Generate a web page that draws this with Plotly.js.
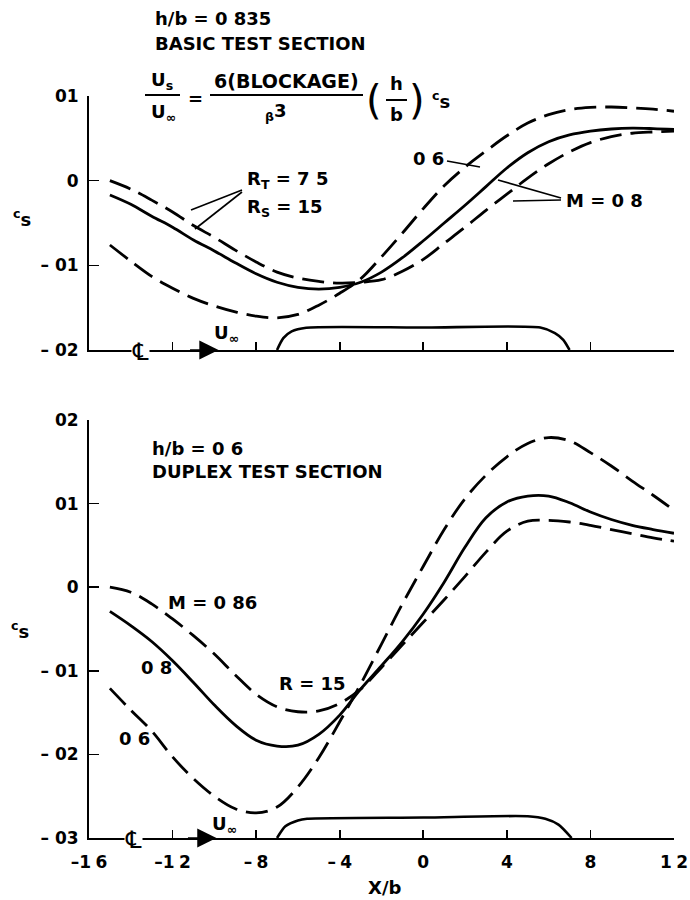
<!DOCTYPE html>
<html>
<head>
<meta charset="utf-8">
<script src="https://cdn.plot.ly/plotly-3.0.1.min.js"></script>
<style>html,body{margin:0;padding:0;background:#fff}</style>
</head>
<body>
<div id="chart" style="width:690px;height:900px"></div>
<script>
// ---------- DATA (x = X/b, y = epsilon_s) ----------
const curveX = [-1.5,-1.4,-1.3,-1.2,-1.1,-1.0,-0.9,-0.8,-0.7,-0.6,-0.5,-0.4,-0.3,-0.2,-0.1,0.0,0.1,0.2,0.3,0.4,0.5,0.6,0.7,0.8,0.9,1.0,1.1,1.2];

// Top panel: h/b = 0.835, basic test section
const topM06Y   = [-0.0076,-0.0095,-0.0113,-0.0127,-0.0139,-0.0148,-0.0155,-0.0160,-0.0162,-0.0158,-0.0147,-0.0133,-0.0116,-0.0090,-0.0062,-0.0033,-0.0006,0.0016,0.0035,0.0053,0.0068,0.0078,0.0084,0.00865,0.0087,0.0086,0.00845,0.0082];
const topM08RTY = [-0.0017,-0.0028,-0.0042,-0.0055,-0.0070,-0.0083,-0.0097,-0.0110,-0.0120,-0.0126,-0.0128,-0.0126,-0.0120,-0.0108,-0.0091,-0.0071,-0.0050,-0.0029,-0.0007,0.0015,0.0033,0.0046,0.0054,0.00585,0.0061,0.0062,0.00615,0.00605];
const topM08RSY = [0.0000,-0.0010,-0.0023,-0.0037,-0.0053,-0.0067,-0.0082,-0.0096,-0.0108,-0.0115,-0.0119,-0.0121,-0.0120,-0.0117,-0.0107,-0.0093,-0.0074,-0.0055,-0.0035,-0.0016,0.0003,0.0020,0.0034,0.0045,0.0052,0.0056,0.00575,0.00585];
const topBodyX = [-0.70,-0.67,-0.63,-0.56,0,0.56,0.63,0.67,0.70];
const topBodyY = [-0.0200,-0.0186,-0.0178,-0.01737,-0.01735,-0.01735,-0.0180,-0.0188,-0.0200];

// Bottom panel: h/b = 0.6, duplex test section, R = 15
const botM086Y = [0.0000,-0.0006,-0.0020,-0.0038,-0.0058,-0.0080,-0.0105,-0.0128,-0.0143,-0.0149,-0.0148,-0.0139,-0.0122,-0.0096,-0.0069,-0.0042,-0.0015,0.0013,0.0042,0.0067,0.0079,0.0080,0.0078,0.0074,0.0069,0.0064,0.0059,0.0055];
const botM08Y  = [-0.0029,-0.0046,-0.0065,-0.0088,-0.0114,-0.0141,-0.0165,-0.0183,-0.0190,-0.0189,-0.0176,-0.0153,-0.0122,-0.0094,-0.0065,-0.0032,0.0006,0.0048,0.0083,0.0102,0.0109,0.0109,0.0101,0.0090,0.0081,0.0074,0.0069,0.00645];
const botM06Y  = [-0.0121,-0.0147,-0.0172,-0.0203,-0.0229,-0.0250,-0.0265,-0.0270,-0.0263,-0.0239,-0.0204,-0.0161,-0.0116,-0.0068,-0.0020,0.0025,0.0069,0.0106,0.0134,0.0156,0.0172,0.0179,0.0175,0.0161,0.0145,0.0127,0.0110,0.0092];
const botBodyX = [-0.70,-0.66,-0.60,-0.556,0,0.50,0.584,0.647,0.71];
const botBodyY = [-0.0300,-0.0286,-0.0279,-0.0277,-0.02755,-0.0274,-0.0277,-0.0284,-0.0300];

const xTickVals = [-1.6,-1.2,-0.8,-0.4,0,0.4,0.8,1.2];
const xTickText = ['\u20131\u20056','\u20131\u20052','\u2013\u20058','\u2013\u20054','0','4','8','1\u20052'];
const topYVals = [-0.02,-0.01,0,0.01];
const topYText = ['\u2013 02','\u2013 01','0','01'];
const botYVals = [-0.03,-0.02,-0.01,0,0.01,0.02];
const botYText = ['\u2013 03','\u2013 02','\u2013 01','0','01','02'];

// ---------- LAYOUT HELPERS ----------
const ML = 89, MT = 96, PW = 585, PH = 742;
const px = x => (x - ML) / PW;
const py = y => 1 - (y - MT) / PH;
const FONT = 'DejaVu Sans';
const DASH = '22px,9px';
const LW = 2.8;

function curve(x, y, xa, ya, dash) {
  return {x: x, y: y, xaxis: xa, yaxis: ya, mode: 'lines', hoverinfo: 'skip', showlegend: false,
    line: {color: '#000', width: LW, dash: dash || 'solid', shape: 'spline', smoothing: 1}};
}
function body(x, y, xa, ya) {
  return {x: x, y: y, xaxis: xa, yaxis: ya, mode: 'lines', hoverinfo: 'skip', showlegend: false,
    line: {color: '#000', width: 2.6, shape: 'spline', smoothing: 0.7}};
}

const data = [
  curve(curveX, topM06Y, 'x', 'y', DASH),
  curve(curveX, topM08RTY, 'x', 'y'),
  curve(curveX, topM08RSY, 'x', 'y', DASH),
  body(topBodyX, topBodyY, 'x', 'y'),
  curve(curveX, botM086Y, 'x2', 'y2', DASH),
  curve(curveX, botM08Y, 'x2', 'y2'),
  curve(curveX, botM06Y, 'x2', 'y2', DASH),
  body(botBodyX, botBodyY, 'x2', 'y2')
];

function txt(t, x, y, opt) {
  opt = opt || {};
  const a = {text: t, x: px(x), y: py(y), xref: 'paper', yref: 'paper', showarrow: false,
    xanchor: opt.xa || 'left', yanchor: 'middle', font: {family: FONT, size: opt.size || 18, color: '#000', weight: opt.weight || 'bold'}};
  if (opt.bg) { a.bgcolor = opt.bg; a.borderpad = 0; }
  return a;
}
function seg(x0, y0, x1, y1, w) {
  return {type: 'line', xref: 'paper', yref: 'paper', x0: px(x0), y0: py(y0), x1: px(x1), y1: py(y1),
    line: {color: '#000', width: w || 1.6}};
}
function flowArrow(xa, ya, tipX, yVal) {
  return {xref: xa, yref: ya, x: tipX, y: yVal, ax: -30, ay: 0, text: '', showarrow: true,
    arrowhead: 2, arrowsize: 2.4, arrowwidth: 1.6, arrowcolor: '#000', standoff: 0};
}

const annotations = [
  txt('h/b = 0 835', 153, 18),
  txt('BASIC TEST SECTION', 153, 44),
  txt('U<sub>s</sub>', 162, 81, {xa: 'center'}),
  txt('U<sub>\u221e</sub>', 163, 113, {xa: 'center'}),
  txt('=', 195, 98, {xa: 'center'}),
  txt('6(BLOCKAGE)', 286, 81, {xa: 'center', size: 19}),
  txt('<sub>\u03b2</sub>3', 276, 112, {xa: 'center'}),
  txt('(', 374, 100, {xa: 'center', size: 40, weight: 'normal'}),
  txt(')', 417, 100, {xa: 'center', size: 40, weight: 'normal'}),
  txt('h', 396, 84, {xa: 'center'}),
  txt('b', 396, 115, {xa: 'center'}),
  txt('<sup>c</sup>s', 441, 100, {xa: 'center'}),
  txt('R<sub>T</sub> = 7 5', 245, 180),
  txt('R<sub>S</sub> = 15', 245, 208),
  txt('0 6', 411, 158),
  txt('M = 0 8', 564, 201),
  txt('U<sub>\u221e</sub>', 212, 334),
  txt('\u2104', 140, 352, {xa: 'center', bg: '#fff', size: 24, weight: 'normal'}),
  txt('<sup>c</sup>s', 22, 218, {xa: 'center'}),
  txt('h/b = 0 6', 150, 448),
  txt('DUPLEX TEST SECTION', 150, 472),
  txt('M = 0 86', 166, 602),
  txt('0 8', 139, 667),
  txt('R = 15', 277, 683),
  txt('0 6', 117, 738),
  txt('U<sub>\u221e</sub>', 210, 825),
  txt('\u2104', 133, 840, {xa: 'center', bg: '#fff', size: 24, weight: 'normal'}),
  txt('<sup>c</sup>s', 20, 630, {xa: 'center'}),
  txt('X/b', 384, 887, {xa: 'center'}),
  flowArrow('x', 'y', -0.98, -0.02),
  flowArrow('x2', 'y2', -0.99, -0.03)
];

const shapes = [
  seg(145, 95, 180, 95, 2), seg(210, 95, 363, 95, 2), seg(386, 100, 407, 100, 2),
  seg(242, 190, 191, 210), seg(242, 192, 195, 229),
  seg(447, 161, 480, 167),
  seg(561, 198, 498, 180), seg(561, 200, 513, 201)
];

const axCommon = {showgrid: false, zeroline: false, showline: true, linecolor: '#000', linewidth: 2,
  ticks: 'inside', tickcolor: '#000', tickwidth: 1.6, tickmode: 'array',
  tickfont: {family: FONT, size: 17, color: '#000', weight: 'bold'}, fixedrange: true};

const layout = {
  width: 690, height: 900,
  margin: {l: ML, r: 690 - ML - PW, t: MT, b: 900 - MT - PH},
  paper_bgcolor: '#fff', plot_bgcolor: '#fff',
  font: {family: FONT, size: 18, color: '#000', weight: 'bold'},
  showlegend: false,
  xaxis: Object.assign({}, axCommon, {domain: [0, 1], anchor: 'y', range: [-1.6, 1.2],
    tickvals: xTickVals, ticktext: xTickText, showticklabels: false, ticklen: 8}),
  yaxis: Object.assign({}, axCommon, {domain: [1 - 254 / PH, 1], anchor: 'x', range: [-0.02, 0.01],
    tickvals: topYVals, ticktext: topYText, ticklen: 10, ticklabelstandoff: 5}),
  xaxis2: Object.assign({}, axCommon, {domain: [0, 1], anchor: 'y2', range: [-1.6, 1.2],
    tickvals: xTickVals, ticktext: xTickText, ticklen: 8, ticklabelstandoff: 8, ticklabeloverflow: 'allow'}),
  yaxis2: Object.assign({}, axCommon, {domain: [0, 418 / PH], anchor: 'x2', range: [-0.03, 0.02],
    tickvals: botYVals, ticktext: botYText, ticklen: 10, ticklabelstandoff: 5}),
  annotations: annotations,
  shapes: shapes
};

Plotly.newPlot('chart', data, layout, {staticPlot: true, displayModeBar: false});
</script>
</body>
</html>
